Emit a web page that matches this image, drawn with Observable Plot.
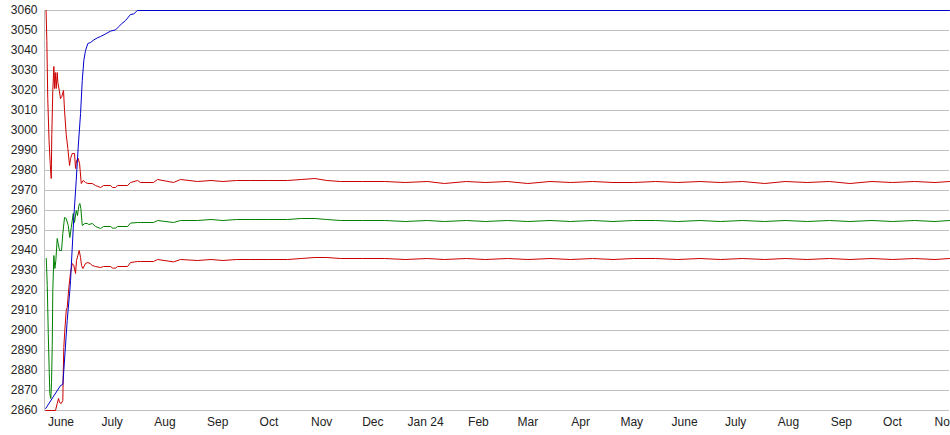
<!DOCTYPE html>
<html><head><meta charset="utf-8">
<script src="https://cdn.jsdelivr.net/npm/d3@7"></script>
<script src="https://cdn.jsdelivr.net/npm/@observablehq/plot@0.6"></script>
<style>
html,body{margin:0;padding:0;background:#fff}
#chart svg{display:block}
</style>
</head><body><div id="chart"></div>
<script>
// ---- axis data ----
const domainStart = "2023-05-22T07:00Z";
const domainEnd = "2024-11-03T12:00Z";
const yTicks = [2860,2870,2880,2890,2900,2910,2920,2930,2940,2950,2960,2970,2980,2990,3000,3010,3020,3030,3040,3050,3060];
const monthTicks = ["2023-06-01","2023-07-01","2023-08-01","2023-09-01","2023-10-01","2023-11-01","2023-12-01","2024-01-01","2024-02-01","2024-03-01","2024-04-01","2024-05-01","2024-06-01","2024-07-01","2024-08-01","2024-09-01","2024-10-01","2024-11-01"];
const monthLabels = ["June","July","Aug","Sep","Oct","Nov","Dec","Jan 24","Feb","Mar","Apr","May","June","July","Aug","Sep","Oct","Nov"];

// ---- early phase, upper (red) ----
const upperTimes = ["2023-05-23T05:00Z","2023-05-23T16:00Z","2023-05-24T05:00Z","2023-05-24T23:00Z","2023-05-25T16:00Z","2023-05-26T06:00Z","2023-05-26T14:00Z","2023-05-27T04:00Z","2023-05-27T19:00Z","2023-05-28T04:00Z","2023-05-28T14:00Z","2023-05-29T04:00Z","2023-05-29T18:00Z","2023-05-30T03:00Z","2023-05-30T23:00Z","2023-05-31T17:00Z","2023-06-01T11:00Z","2023-06-02T11:00Z","2023-06-03T01:00Z","2023-06-04T01:00Z","2023-06-05T00:00Z","2023-06-06T00:00Z","2023-06-06T14:00Z","2023-06-07T14:00Z","2023-06-08T22:00Z","2023-06-09T12:00Z","2023-06-10T02:00Z","2023-06-11T02:00Z","2023-06-11T21:00Z","2023-06-12T21:00Z","2023-06-14T01:00Z","2023-06-15T09:00Z","2023-06-16T18:00Z","2023-06-19T08:00Z"];
const upperValues = [3060,3045,3016,2995,2983,2976,2998,3020,3032,3021,3029,3021,3029,3024,3020,3016,3017,3020,3010,2998,2991,2982.5,2986,2988.5,2988.5,2981,2985,2986,2983.5,2973.5,2975,2974,2973.5,2973.5];

// ---- early phase, middle (green) ----
const middleTimes = ["2023-05-23T08:00Z","2023-05-23T22:00Z","2023-05-24T12:00Z","2023-05-25T02:00Z","2023-05-25T10:00Z","2023-05-26T00:00Z","2023-05-26T10:00Z","2023-05-26T20:00Z","2023-05-27T04:00Z","2023-05-27T19:00Z","2023-05-28T09:00Z","2023-05-28T23:00Z","2023-05-29T18:00Z","2023-05-30T08:00Z","2023-05-31T03:00Z","2023-06-01T07:00Z","2023-06-02T01:00Z","2023-06-03T01:00Z","2023-06-04T01:00Z","2023-06-05T05:00Z","2023-06-06T04:00Z","2023-06-07T00:00Z","2023-06-08T04:00Z","2023-06-08T22:00Z","2023-06-09T22:00Z","2023-06-10T16:00Z","2023-06-11T11:00Z","2023-06-12T01:00Z","2023-06-12T15:00Z","2023-06-13T11:00Z","2023-06-14T23:00Z","2023-06-16T09:00Z","2023-06-17T08:00Z","2023-06-19T08:00Z"];
const middleValues = [2936,2922.5,2898.5,2879,2868.5,2866,2874,2892.5,2920,2937.5,2931,2935,2946,2943.5,2940,2940,2948.5,2956.5,2956,2952.5,2946.5,2951.5,2958.5,2954,2960,2957.5,2962.5,2963.5,2961,2952.5,2953.5,2953.5,2953,2953.5];

// ---- early phase, lower (red) ----
const lowerTimes = ["2023-05-23T00:00Z","2023-05-28T18:00Z","2023-05-29T18:00Z","2023-05-30T13:00Z","2023-05-31T03:00Z","2023-06-01T03:00Z","2023-06-02T01:00Z","2023-06-02T07:00Z","2023-06-02T15:00Z","2023-06-03T05:00Z","2023-06-04T01:00Z","2023-06-04T15:00Z","2023-06-05T14:00Z","2023-06-06T14:00Z","2023-06-07T14:00Z","2023-06-08T12:00Z","2023-06-09T12:00Z","2023-06-10T02:00Z","2023-06-10T21:00Z","2023-06-11T16:00Z","2023-06-12T11:00Z","2023-06-13T01:00Z","2023-06-13T19:00Z","2023-06-15T09:00Z","2023-06-16T18:00Z","2023-06-18T01:00Z","2023-06-19T08:00Z"];
const lowerValues = [2860,2860,2863.5,2866,2864,2863.5,2865,2878.5,2891.5,2900,2910,2911.5,2921.5,2929,2933.5,2932.5,2928.5,2935,2937.5,2940,2936.5,2932.5,2931,2933.5,2934,2933.5,2932.5];

// ---- settled phase (shared times) ----
const tailTimes = ["2023-06-21T06:00Z","2023-06-24T05:00Z","2023-06-25T23:00Z","2023-06-30T01:00Z","2023-07-01T06:00Z","2023-07-03T00:00Z","2023-07-04T04:00Z","2023-07-10T01:00Z","2023-07-11T19:00Z","2023-07-15T22:00Z","2023-07-17T16:00Z","2023-07-25T07:00Z","2023-07-27T16:00Z","2023-08-06T01:00Z","2023-08-10T04:00Z","2023-08-20T03:00Z","2023-08-28T00:00Z","2023-09-04T00:00Z","2023-09-12T00:00Z","2023-09-20T00:00Z","2023-10-01T00:00Z","2023-10-12T00:00Z","2023-10-20T00:00Z","2023-10-28T00:00Z","2023-11-04T00:00Z","2023-11-12T00:00Z","2023-11-25T00:00Z","2023-12-08T00:00Z","2023-12-20T00:00Z","2024-01-02T00:00Z","2024-01-12T00:00Z","2024-01-25T00:00Z","2024-02-05T00:00Z","2024-02-18T00:00Z","2024-03-01T00:00Z","2024-03-14T00:00Z","2024-03-26T00:00Z","2024-04-08T00:00Z","2024-04-20T00:00Z","2024-05-02T00:00Z","2024-05-15T00:00Z","2024-05-28T00:00Z","2024-06-10T00:00Z","2024-06-22T00:00Z","2024-07-05T00:00Z","2024-07-18T00:00Z","2024-07-30T00:00Z","2024-08-12T00:00Z","2024-08-25T00:00Z","2024-09-06T00:00Z","2024-09-19T00:00Z","2024-10-01T00:00Z","2024-10-14T00:00Z","2024-10-26T00:00Z","2024-11-03T12:00Z"];
const tailUpper  = [2972.5,2971.5,2972.5,2972.5,2971.5,2971.5,2972.5,2972.5,2974,2975,2974,2974,2975.5,2974,2975.5,2974.5,2975,2974.5,2975,2975,2975,2975,2975.5,2976,2975,2974.5,2974.5,2974.5,2974,2974.5,2973.5,2974.5,2974,2974.5,2973.5,2974.5,2974,2974.5,2974,2974,2974.5,2974,2974.5,2974,2974.5,2973.5,2974.5,2974,2974.5,2973.5,2974.5,2974,2974.5,2974,2974.5];
const tailMiddle = [2952,2951,2952,2952,2951.2,2951.2,2952,2952,2953.7,2954,2954,2954,2955,2954,2955,2955,2955.5,2955,2955.5,2955.5,2955.5,2955.5,2956,2956,2955.5,2955,2955,2955,2954.5,2955,2954.5,2955,2954.5,2955,2954.5,2955,2954.5,2955,2954.5,2955,2955,2954.5,2955,2954.5,2955,2954.5,2955,2954.5,2955,2954.5,2955,2954.5,2955,2954.5,2955];
const tailLower  = [2932,2931.5,2932,2932,2931.2,2931.2,2932,2932,2934,2934.5,2934.5,2934.5,2935.5,2934.3,2935.5,2935,2935.5,2935,2935.5,2935.5,2935.5,2935.5,2936,2936.5,2936.5,2936,2936,2936,2935.5,2936,2935.5,2936,2935.5,2936,2935.5,2936,2935.5,2936,2935.5,2936,2936,2935.5,2936,2935.5,2936,2935.5,2936,2935.5,2936,2935.5,2936,2935.5,2936,2935.5,2936];

// ---- blue (running maximum) ----
const blueTimes = ["2023-05-23T00:00Z","2023-05-31T17:00Z","2023-06-02T01:00Z","2023-06-02T15:00Z","2023-06-04T15:00Z","2023-06-06T04:00Z","2023-06-06T14:00Z","2023-06-08T12:00Z","2023-06-09T22:00Z","2023-06-11T02:00Z","2023-06-12T11:00Z","2023-06-13T11:00Z","2023-06-14T09:00Z","2023-06-15T09:00Z","2023-06-16T18:00Z","2023-06-18T08:00Z","2023-06-20T06:00Z","2023-06-22T06:00Z","2023-06-24T05:00Z","2023-06-27T03:00Z","2023-06-30T01:00Z","2023-07-03T00:00Z","2023-07-04T14:00Z","2023-07-06T12:00Z","2023-07-08T21:00Z","2023-07-11T19:00Z","2023-07-13T18:00Z","2023-07-15T18:00Z","2024-11-03T12:00Z"];
const blueValues = [2861,2872.5,2873,2880,2905,2920,2925,2956.7,2975,2991.7,3008.5,3025,3035,3040,3043.5,3044,3045.3,3046.3,3047,3048.3,3049.7,3050.3,3051.7,3053.3,3055,3058,3058.3,3060,3060];

// ---- build tables ----
const pts = (times, values) => times.map((t, i) => ({t: new Date(t), v: values[i]}));
const upper = pts(upperTimes.concat(tailTimes), upperValues.concat(tailUpper));
const middle = pts(middleTimes.concat(tailTimes), middleValues.concat(tailMiddle));
const lower = pts(lowerTimes.concat(tailTimes), lowerValues.concat(tailLower));
const blue = pts(blueTimes, blueValues);
const tickDates = monthTicks.map(d => new Date(d + "T00:00Z"));
const labelOf = new Map(tickDates.map((d, i) => [+d, monthLabels[i]]));

const chart = Plot.plot({
  width: 950,
  height: 435,
  marginLeft: 44,
  marginRight: 1,
  marginTop: 10,
  marginBottom: 25,
  style: {fontFamily: "'Liberation Sans', Arial, sans-serif", fontSize: "12px", color: "#222", background: "#fff", overflow: "hidden"},
  x: {type: "utc", domain: [new Date(domainStart), new Date(domainEnd)]},
  y: {domain: [2860, 3060]},
  marks: [
    Plot.gridY(yTicks, {stroke: "#c0c0c0", strokeOpacity: 1}),
    Plot.ruleX([new Date(domainStart)], {stroke: "#c0c0c0"}),
    Plot.axisY(yTicks, {label: null, tickSize: 0, tickPadding: 7, fontSize: 12, tickFormat: d => String(d)}),
    Plot.axisX(tickDates, {label: null, tickSize: 0, tickPadding: 7, fontSize: 12, tickFormat: d => labelOf.get(+d)}),
    Plot.line(middle, {x: "t", y: "v", stroke: "#008000", strokeWidth: 1}),
    Plot.line(upper, {x: "t", y: "v", stroke: "#cc0000", strokeWidth: 1}),
    Plot.line(lower, {x: "t", y: "v", stroke: "#cc0000", strokeWidth: 1}),
    Plot.line(blue, {x: "t", y: "v", stroke: "#0000cc", strokeWidth: 1})
  ]
});
document.getElementById("chart").append(chart);
</script>
</body></html>
